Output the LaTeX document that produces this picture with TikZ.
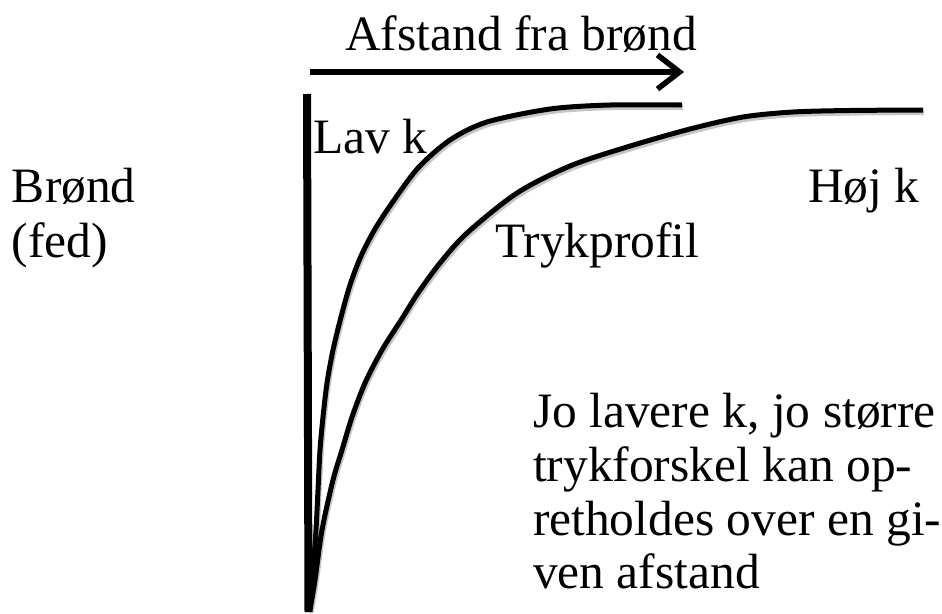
\documentclass[tikz,border=0pt]{standalone}
\usepackage{fontspec}
\setmainfont{Liberation Serif}
\usetikzlibrary{arrows.meta}
\tikzset{
  lbl/.style={inner sep=0pt, outer sep=0pt, anchor=base west, font=\fontsize{49.5}{54}\selectfont},
  curveline/.style={line width=5pt, draw=black},
  shadowline/.style={line width=5pt, draw=gray!45, shift={(1.2,2.6)}},
}
\begin{document}
\begin{tikzpicture}[x=1pt,y=-1pt]
\useasboundingbox (0,0) rectangle (942,613);
% texts
\node[lbl, anchor=base] (title) at (521,50) {Afstand fra brønd};
\node[lbl] (lav) at (313,153) {Lav k};
\node[lbl] (brond) at (12,202) {Brønd};
\node[lbl] (fed) at (12,257) {(fed)};
\node[lbl] (hoj) at (808,202) {Høj k};
\node[lbl] (tryk) at (495,257) {Trykprofil};
\node[lbl] (p1) at (533,427) {Jo lavere k, jo større};
\node[lbl] (p2) at (533,481) {trykforskel kan op-};
\node[lbl] (p3) at (533,535) {retholdes over en gi-};
\node[lbl] (p4) at (533,588) {ven afstand};
% arrow
\coordinate (aS) at (310,72);
\coordinate (aE) at (684,72);
\draw[shadowline, line width=5.5pt, -{Straight Barb[length=22pt,width=34pt]}] (aS) -- (aE);
\draw[curveline, line width=5.5pt, -{Straight Barb[length=22pt,width=34pt]}] (aS) -- (aE);
% curves
\def\lavpts{(309,610) (313,570) (316,530) (318,490) (320,450) (323,417) (327,383) (333,350) (341,317) (350,285) (361,256) (375,229) (392,203) (418,168) (450,140) (487,122) (550,109) (610,105) (682,105)}
\def\hojpts{(310,610) (315,580) (322,530) (333,480) (342,450) (352,417) (365,383) (382,350) (403,317) (418,293) (440,263) (467,233) (517,193) (570,166) (627,147) (690,129) (743,117) (793,112) (850,110.5) (923,110)}
\draw[shadowline] plot[smooth, tension=0.5] coordinates {\lavpts};
\draw[shadowline] plot[smooth, tension=0.5] coordinates {\hojpts};
\draw[curveline] plot[smooth, tension=0.5] coordinates {\lavpts};
\draw[curveline] plot[smooth, tension=0.5] coordinates {\hojpts};
% well line
\coordinate (wT) at (307,94);
\coordinate (wB) at (308.5,612);
\draw[line width=8pt] (wT) -- (wB);
\end{tikzpicture}
\end{document}
